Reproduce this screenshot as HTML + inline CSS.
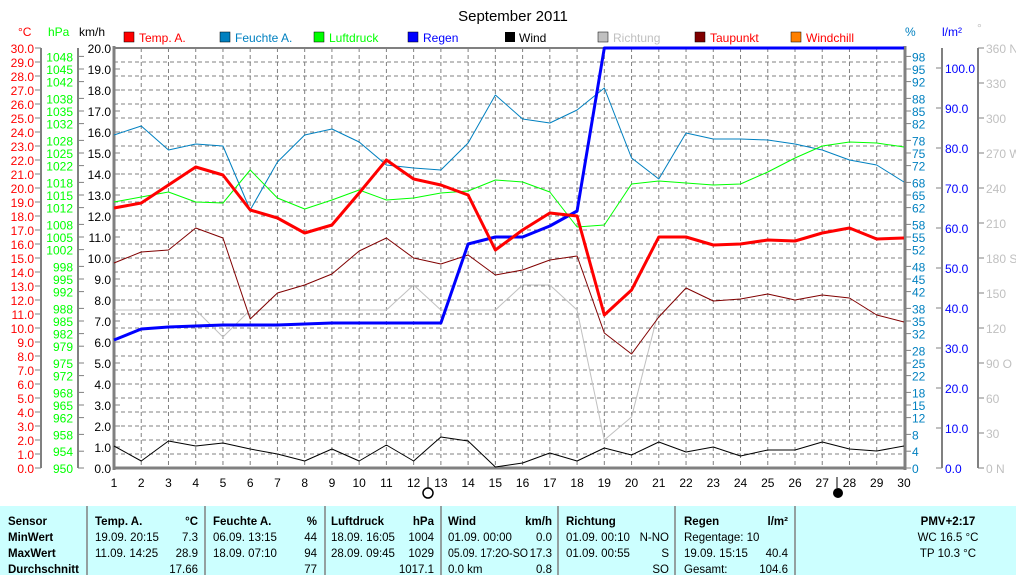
<!DOCTYPE html>
<html><head><meta charset="utf-8"><style>
body{margin:0;background:#fff;width:1016px;height:575px;overflow:hidden;font-family:"Liberation Sans",sans-serif}
svg text{font-family:"Liberation Sans",sans-serif}
</style></head><body>
<svg width="1016" height="575" xmlns="http://www.w3.org/2000/svg" id="s">
<text x="513" y="21" font-size="15" text-anchor="middle">September 2011</text>
<g font-size="12">
<rect x="124" y="32" width="10" height="10" fill="#f00" stroke="#000" stroke-width="0.5"/><text x="139" y="42" fill="#f00">Temp. A.</text>
<rect x="220" y="32" width="10" height="10" fill="#0080c0" stroke="#000" stroke-width="0.5"/><text x="235" y="42" fill="#0080c0">Feuchte A.</text>
<rect x="314" y="32" width="10" height="10" fill="#0f0" stroke="#000" stroke-width="0.5"/><text x="329" y="42" fill="#0f0">Luftdruck</text>
<rect x="408" y="32" width="10" height="10" fill="#00f" stroke="#000" stroke-width="0.5"/><text x="423" y="42" fill="#00f">Regen</text>
<rect x="505" y="32" width="10" height="10" fill="#000"/><text x="519" y="42" fill="#000">Wind</text>
<rect x="598" y="32" width="10" height="10" fill="#c0c0c0" stroke="#000" stroke-width="0.5"/><text x="613" y="42" fill="#c0c0c0">Richtung</text>
<rect x="695" y="32" width="10" height="10" fill="#800000" stroke="#000" stroke-width="0.5"/><text x="710" y="42" fill="#f00">Taupunkt</text>
<rect x="791" y="32" width="10" height="10" fill="#ff8000" stroke="#000" stroke-width="0.5"/><text x="806" y="42" fill="#f00">Windchill</text>
<text x="18" y="36" fill="#f00">°C</text><text x="48" y="36" fill="#0f0">hPa</text><text x="79" y="36" fill="#000">km/h</text>
<text x="905" y="36" fill="#0080c0">%</text><text x="942" y="36" fill="#00f">l/m²</text><text x="977" y="32" fill="#c0c0c0">°</text>
</g>
<g id="grid" stroke="#808080" stroke-dasharray="4,3" stroke-width="1"></g>
<g id="axes" stroke="#808080" stroke-width="2" fill="none"></g>
<g id="lbl" font-size="12"></g>
<g id="series" fill="none" stroke-linejoin="round"></g>
<line x1="428" y1="477" x2="428" y2="488" stroke="#000"/>
<circle cx="428" cy="493" r="5" fill="#fff" stroke="#000" stroke-width="1.5"/>
<line x1="837" y1="477" x2="837" y2="488" stroke="#000"/>
<circle cx="838" cy="493" r="4.5" fill="#000" stroke="#000"/>
<rect x="0" y="506" width="1016" height="69" fill="#ccffff"/>
<g stroke="#808080" stroke-width="1.5">
<line x1="87" y1="506" x2="87" y2="575"/><line x1="205" y1="506" x2="205" y2="575"/><line x1="325" y1="506" x2="325" y2="575"/><line x1="441" y1="506" x2="441" y2="575"/><line x1="558" y1="506" x2="558" y2="575"/><line x1="675" y1="506" x2="675" y2="575"/><line x1="795" y1="506" x2="795" y2="575"/>
</g>
<g font-size="11.5" fill="#000">
<g font-weight="bold"><text x="8" y="525">Sensor</text><text x="8" y="541">MinWert</text><text x="8" y="557">MaxWert</text><text x="8" y="573">Durchschnitt</text>
<text x="95" y="525">Temp. A.</text><text x="198" y="525" text-anchor="end">°C</text>
<text x="213" y="525">Feuchte A.</text><text x="317" y="525" text-anchor="end">%</text>
<text x="331" y="525">Luftdruck</text><text x="434" y="525" text-anchor="end">hPa</text>
<text x="448" y="525">Wind</text><text x="552" y="525" text-anchor="end">km/h</text>
<text x="566" y="525">Richtung</text>
<text x="684" y="525">Regen</text><text x="788" y="525" text-anchor="end">l/m²</text>
<text x="948" y="525" text-anchor="middle">PMV+2:17</text></g>
<text x="95" y="541">19.09.  20:15</text><text x="198" y="541" text-anchor="end">7.3</text>
<text x="95" y="557">11.09.  14:25</text><text x="198" y="557" text-anchor="end">28.9</text>
<text x="198" y="573" text-anchor="end">17.66</text>
<text x="213" y="541">06.09.  13:15</text><text x="317" y="541" text-anchor="end">44</text>
<text x="213" y="557">18.09.  07:10</text><text x="317" y="557" text-anchor="end">94</text>
<text x="317" y="573" text-anchor="end">77</text>
<text x="331" y="541">18.09.  16:05</text><text x="434" y="541" text-anchor="end">1004</text>
<text x="331" y="557">28.09.  09:45</text><text x="434" y="557" text-anchor="end">1029</text>
<text x="434" y="573" text-anchor="end">1017.1</text>
<text x="448" y="541">01.09.  00:00</text><text x="552" y="541" text-anchor="end">0.0</text>
<text x="448" y="557" textLength="80" lengthAdjust="spacingAndGlyphs">05.09.  17:2O-SO</text><text x="552" y="557" text-anchor="end">17.3</text>
<text x="448" y="573">0.0 km</text><text x="552" y="573" text-anchor="end">0.8</text>
<text x="566" y="541">01.09.  00:10</text><text x="669" y="541" text-anchor="end">N-NO</text>
<text x="566" y="557">01.09.  00:55</text><text x="669" y="557" text-anchor="end">S</text>
<text x="669" y="573" text-anchor="end">SO</text>
<text x="684" y="541">Regentage: 10</text>
<text x="684" y="557">19.09.  15:15</text><text x="788" y="557" text-anchor="end">40.4</text>
<text x="684" y="573">Gesamt:</text><text x="788" y="573" text-anchor="end">104.6</text>
<text x="948" y="541" text-anchor="middle">WC 16.5 °C</text>
<text x="948" y="557" text-anchor="middle">TP 10.3 °C</text>
</g>
</svg>
<script>
const NS="http://www.w3.org/2000/svg";
function el(p,t,a,txt){const e=document.createElementNS(NS,t);for(const k in a)e.setAttribute(k,a[k]);if(txt!==undefined)e.textContent=txt;document.getElementById(p).appendChild(e);return e;}
const X=d=>114+(d-1)*27.24;
for(let y=48;y<468;y+=14)el("grid","line",{x1:114,y1:y,x2:905,y2:y});
for(let d=2;d<30;d++)el("grid","line",{x1:X(d),y1:48,x2:X(d),y2:468});
el("axes","line",{x1:114,y1:468,x2:905,y2:468,"stroke-width":3});
el("axes","line",{x1:114,y1:46,x2:114,y2:470,"stroke-width":3});
el("axes","line",{x1:905,y1:46,x2:905,y2:470,"stroke-width":3});
el("axes","line",{x1:114,y1:48,x2:905,y2:48});
el("axes","line",{x1:41,y1:48,x2:41,y2:468});
el("axes","line",{x1:78,y1:48,x2:78,y2:468});
el("axes","line",{x1:942,y1:48,x2:942,y2:468});
el("axes","line",{x1:978,y1:48,x2:978,y2:468});
const hpa=[1048,1045,1042,1038,1035,1032,1028,1025,1022,1018,1015,1012,1008,1005,1002,998,995,992,988,985,982,979,975,972,968,965,962,958,954,950];
const pc=[98,95,92,88,85,82,78,75,72,68,65,62,58,55,52,48,45,42,38,35,32,28,25,22,18,15,12,8,4,0];
for(let k=0;k<=30;k++){
  const y=48+14*k;
  el("axes","line",{x1:35,y1:y,x2:41,y2:y,"stroke-width":1});
  el("lbl","text",{x:34,y:y+5,fill:"#f00","text-anchor":"end"},(30-k).toFixed(1));
}
hpa.forEach(v=>{const y=468-(v-950)*4.2;el("axes","line",{x1:78,y1:y,x2:84,y2:y,"stroke-width":1});el("lbl","text",{x:73,y:y+5,fill:"#0f0","text-anchor":"end"},v);});
pc.forEach(v=>{const y=468-v*4.2;el("axes","line",{x1:905,y1:y,x2:911,y2:y,"stroke-width":1});el("lbl","text",{x:912,y:y+5,fill:"#0080c0"},v);});
for(let k=0;k<=20;k++){const y=48+21*k;el("axes","line",{x1:114,y1:y,x2:120,y2:y,"stroke-width":1});el("lbl","text",{x:111,y:y+5,fill:"#000","text-anchor":"end"},(20-k).toFixed(1));}
for(let v=0;v<=100;v+=10){const y=468-4*v;el("axes","line",{x1:936,y1:y,x2:942,y2:y,"stroke-width":1});el("lbl","text",{x:945,y:y+5,fill:"#00f"},v.toFixed(1));}
const dir=["360 N","330","300","270 W","240","210","180 S","150","120","90 O","60","30","0 N"];
for(let k=0;k<=12;k++){const y=48+35*k;el("axes","line",{x1:978,y1:y,x2:984,y2:y,"stroke-width":1});el("lbl","text",{x:986,y:y+5,fill:"#c0c0c0"},dir[k]);}
for(let d=1;d<=30;d++)el("lbl","text",{x:X(d),y:487,fill:"#000","text-anchor":"middle"},d);
function line(ys,c,w){el("series","polyline",{points:ys.map((y,i)=>X(i+1)+","+y).join(" "),stroke:c,"stroke-width":w});}
line([310,310,310,310,337,310,310,310,310,310,310,285,310,310,310,285,285,310,440,417,310,310,310,310,310,310,310,310,310,310],"#c0c0c0",1);
line([263,252,250,228,238,319,293,285,274,251,238,258,264,255,275,270,260,256,333,354,317,288,301,299,294,300,295,298,315,322],"#800000",1);
line([135,126,150,144,146,210,162,135,129,142,165,168,170,143,95,119,123,110,88,158,179,133,139,139,140,144,150,160,165,182],"#0080c0",1);
line([202,197,192,202,203,170,198,209,200,190,200,198,193,191,180,182,192,227,225,184,181,183,185,184,172,158,146,142,143,147],"#00ff00",1);
line([446,461,441,446,443,449,454,461,449,461,445,461,437,441,467,463,453,461,448,455,442,452,447,456,450,450,442,449,451,446],"#000",1);
line([340,329,327,326,325,325,325,324,323,323,323,323,323,244,237,237,226,211,48,48,48,48,48,48,48,48,48,48,48,48],"#0000ff",3);
line([208,203,185,167,175,210,218,233,225,193,160,179,185,195,250,230,213,216,315,290,237,237,245,244,240,241,233,228,239,238],"#ff0000",3);
</script>
</body></html>
